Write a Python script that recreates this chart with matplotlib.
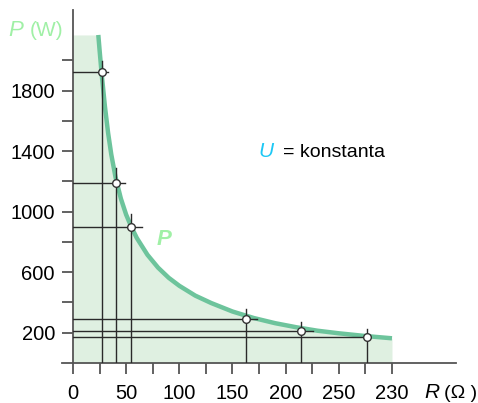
import matplotlib
matplotlib.use("Agg")
import matplotlib.pyplot as plt

plt.rcParams['font.family'] = ['Liberation Sans', 'DejaVu Sans']

# curve P(R)
curve_R = [23.8, 25, 27, 30, 33, 36, 40, 45, 50, 55, 60, 70, 80, 90, 100, 115, 130, 150, 170, 190, 210, 230, 250, 275, 300]
curve_P = [2168, 2068, 1907, 1697, 1521, 1378, 1228, 1087, 980, 897, 826, 715, 630, 563, 510, 445, 396, 340, 297, 263, 236, 213, 196, 178, 163]

# measured points
pt_R = [27.0, 40.9, 54.6, 162.7, 214.7, 276.3]
pt_P = [1926, 1190, 897, 292.6, 213.2, 169.6]
# crosshair extents
h_end_R = [32.9, 48.9, 64.6, 173.0, 226.0, 276.3]
v_top_P = [1996, 1289, 985, 354.7, 268.8, 222.5]

x_ticks = [0, 50, 100, 150, 200, 250, 300]
x_ticklabels = ["0", "50", "100", "150", "200", "250", "230"]
x_minor = [25, 75, 125, 175, 225, 275]
y_ticks = [200, 600, 1000, 1400, 1800]
y_minor = [400, 800, 1200, 1600, 2000]

W, H = 478, 403
fig = plt.figure(figsize=(W / 100, H / 100), dpi=100)
ax = fig.add_axes([73 / W, 40.05 / H, 383 / W, 352.95 / H])
ax.set_xlim(0, 360.2)
ax.set_ylim(0, 2333)

fill_x = [0] + curve_R
fill_y = [curve_P[0]] + curve_P
ax.fill_between(fill_x, 0, fill_y, color='#dff0e1', lw=0, zorder=1)
ax.plot(curve_R, curve_P, color='#6dc49c', lw=3.2, solid_capstyle='butt',
        solid_joinstyle='round', zorder=3)

line_c = '#2a2a2a'
for r, p, he, vt in zip(pt_R, pt_P, h_end_R, v_top_P):
    ax.plot([0, he], [p, p], color=line_c, lw=1.0, zorder=4)
    ax.plot([r, r], [0, vt], color=line_c, lw=1.0, zorder=4)
ax.plot(pt_R, pt_P, 'o', ms=5.5, mfc='white', mec='#333333', mew=1.0, zorder=5, ls='none')

for s in ['top', 'right']:
    ax.spines[s].set_visible(False)
for s in ['left', 'bottom']:
    ax.spines[s].set_color('#555555')
    ax.spines[s].set_linewidth(1.3)
ax.plot([-11 / 383, 0], [0, 0], transform=ax.transAxes, color='#555555', lw=1.3, clip_on=False)

ax.set_xticks(x_ticks)
ax.set_xticklabels(x_ticklabels)
ax.set_xticks(x_minor, minor=True)
ax.set_yticks(y_ticks)
ax.set_yticks(y_minor, minor=True)
ax.tick_params(axis='both', which='both', direction='out', length=8, width=1.3, color='#555555')
ax.tick_params(axis='x', which='major', labelsize=14.5, pad=7)
ax.tick_params(axis='y', which='major', labelsize=14.5, pad=5)

def fx(px):
    return px / W

def fy(py):
    return 1 - py / H

green = '#a0f0a6'
fig.text(fx(8), fy(35.5), "P", color=green, fontsize=16, style='italic')
fig.text(fx(30), fy(35.5), "(W)", color=green, fontsize=15)

fig.text(fx(258), fy(157), "U", color='#1ec8f5', fontsize=15, style='italic')
fig.text(fx(283), fy(157), "= konstanta", color='black', fontsize=14)

fig.text(fx(157), fy(245), "P", color=green, fontsize=16, style='italic', fontweight='bold')

fig.text(fx(424), fy(398), "R", color='black', fontsize=15, style='italic')
fig.text(fx(444), fy(398), "(Ω )", color='black', fontsize=14)

fig.savefig("out.png", dpi=100)
